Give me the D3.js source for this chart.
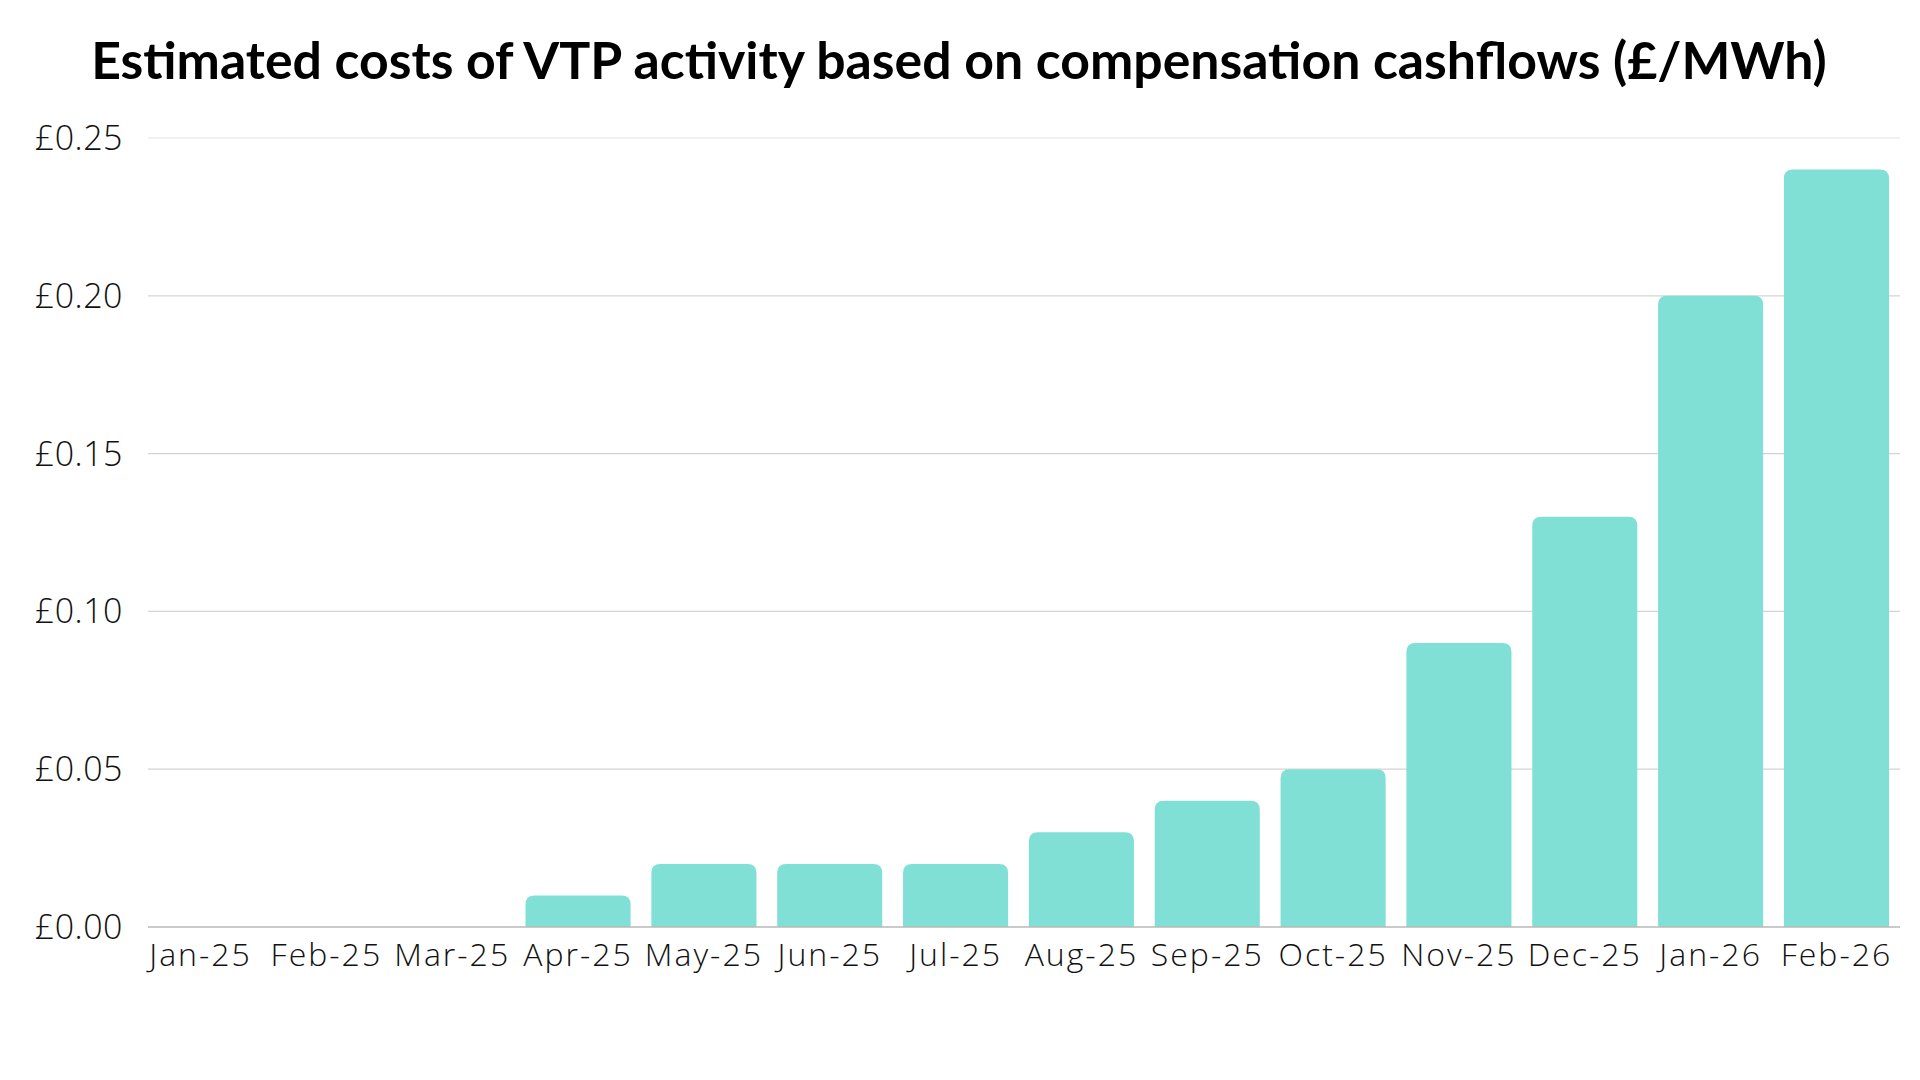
<!DOCTYPE html>
<html>
<head>
<meta charset="utf-8">
<script src="https://cdn.jsdelivr.net/npm/d3@7"></script>
<style>
  html, body { margin: 0; padding: 0; background: #fff; }
  svg { display: block; }
  .tick-label { font-family: "Open Sans", Lato, sans-serif; font-weight: 300; fill: #111; }
</style>
</head>
<body>
<div id="chart"></div>
<script>
/**
 * DATA
 * */
const months = ["Jan-25", "Feb-25", "Mar-25", "Apr-25", "May-25", "Jun-25", "Jul-25",
  "Aug-25", "Sep-25", "Oct-25", "Nov-25", "Dec-25", "Jan-26", "Feb-26"];
const costs = [0, 0, 0, 0.01, 0.02, 0.02, 0.02, 0.03, 0.04, 0.05, 0.09, 0.13, 0.20, 0.24];
const yTicks = [0, 0.05, 0.10, 0.15, 0.20, 0.25];
const title = "Estimated costs of VTP activity based on compensation cashflows (£/MWh)";

/**
 * CONSTANTS
 * */
const width = 1920, height = 1080;
const margin = { top: 138, bottom: 153, left: 148, right: 31 };
const barColor = "#80e0d6";

const svg = d3.select("#chart").append("svg")
  .attr("width", width)
  .attr("height", height);

// scales
const x = d3.scaleBand()
  .domain(months)
  .range([margin.left, width - margin.right])
  .paddingInner(0.165)
  .paddingOuter(0);

const y = d3.scaleLinear()
  .domain([0, 0.25])
  .range([height - margin.bottom, margin.top]);

const gridRight = 1900;

// gridlines
svg.append("g")
  .selectAll("line")
  .data(yTicks.filter(d => d > 0))
  .join("line")
  .attr("x1", margin.left)
  .attr("x2", gridRight)
  .attr("y1", d => y(d))
  .attr("y2", d => y(d))
  .attr("stroke", d => d === 0.25 ? "#ededed" : "#d4d4d4")
  .attr("stroke-width", 1.3);

// y labels
svg.append("g")
  .selectAll("text")
  .data(yTicks)
  .join("text")
  .attr("class", "tick-label")
  .attr("x", 123)
  .attr("y", d => y(d))
  .attr("dy", "0.35em")
  .attr("text-anchor", "end")
  .attr("font-size", 34)
  .attr("letter-spacing", 0.5)
  .text(d => "£" + d3.format(".2f")(d));

// bars, rounded on top only
const r = 9;
svg.append("g")
  .selectAll("path")
  .data(months.map((m, i) => ({ month: m, value: costs[i] })).filter(d => d.value > 0))
  .join("path")
  .attr("fill", barColor)
  .attr("d", d => {
    const x0 = x(d.month), w = x.bandwidth();
    const y0 = y(d.value), yb = y(0);
    const rr = Math.min(r, (yb - y0));
    return `M${x0},${yb}V${y0 + rr}Q${x0},${y0} ${x0 + rr},${y0}H${x0 + w - rr}Q${x0 + w},${y0} ${x0 + w},${y0 + rr}V${yb}Z`;
  });

// baseline
svg.append("line")
  .attr("x1", margin.left)
  .attr("x2", gridRight)
  .attr("y1", y(0))
  .attr("y2", y(0))
  .attr("stroke", "#b8b8b8")
  .attr("stroke-width", 1.5);

// x labels
svg.append("g")
  .selectAll("text")
  .data(months)
  .join("text")
  .attr("class", "tick-label")
  .attr("x", d => x(d) + x.bandwidth() / 2)
  .attr("y", 966)
  .attr("text-anchor", "middle")
  .attr("font-size", 32)
  .attr("letter-spacing", 2)
  .text(d => d);

// title, sized to span the same width as the original
const titleText = svg.append("text")
  .attr("x", 959)
  .attr("y", 79)
  .attr("text-anchor", "middle")
  .attr("font-family", "Lato, 'Open Sans', sans-serif")
  .attr("font-weight", 700)
  .attr("font-size", 50)
  .attr("fill", "#000")
  .text(title);

const tw = titleText.node().getComputedTextLength();
titleText.attr("font-size", 50 * 1736 / tw);
</script>
</body>
</html>
